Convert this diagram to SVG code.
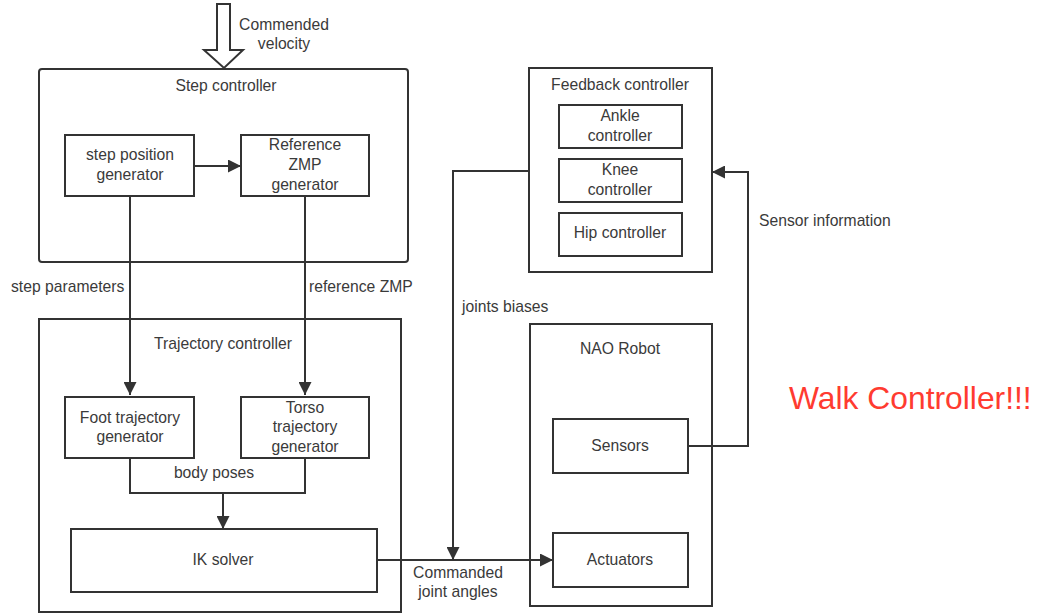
<svg xmlns="http://www.w3.org/2000/svg" width="1042" height="613" viewBox="0 0 1042 613">
<defs>
<marker id="ah" viewBox="0 0 12 12" refX="12" refY="6" markerWidth="13" markerHeight="13" markerUnits="userSpaceOnUse" orient="auto">
<path d="M0,0 L12,6 L0,12 Z" fill="#333"/>
</marker>
</defs>
<style>
text{font-family:"Liberation Sans",Arial,sans-serif;font-size:15.7px;fill:#3a3a3a;text-anchor:middle}
.l{text-anchor:start}
.box{fill:#fff;stroke:#333;stroke-width:2}
.ln{fill:none;stroke:#333;stroke-width:2}
</style>
<rect width="1042" height="613" fill="#fff"/>
<g id="step-controller">
<rect class="box" x="39" y="69" width="369" height="193" rx="3"/>
<text x="226" y="91">Step controller</text>
</g>
<g id="step-position-generator">
<rect class="box" x="65" y="135" width="129" height="61"/>
<text x="130" y="160">step position</text>
<text x="130" y="180">generator</text>
</g>
<g id="reference-zmp-generator">
<rect class="box" x="241" y="135" width="128" height="61"/>
<text x="305" y="150">Reference</text>
<text x="305" y="170">ZMP</text>
<text x="305" y="190">generator</text>
</g>
<g id="trajectory-controller">
<rect class="box" x="39" y="319" width="362" height="293"/>
<text x="223" y="349">Trajectory controller</text>
</g>
<g id="foot-trajectory-generator">
<rect class="box" x="65" y="397" width="129" height="61"/>
<text x="130" y="423">Foot trajectory</text>
<text x="130" y="442">generator</text>
</g>
<g id="torso-trajectory-generator">
<rect class="box" x="241" y="397" width="128" height="61"/>
<text x="305" y="413">Torso</text>
<text x="305" y="432">trajectory</text>
<text x="305" y="452">generator</text>
</g>
<g id="ik-solver">
<rect class="box" x="71" y="529" width="306" height="63"/>
<text x="223" y="565">IK solver</text>
</g>
<g id="feedback-controller">
<rect class="box" x="529" y="68" width="183" height="204"/>
<text x="620" y="90">Feedback controller</text>
</g>
<g id="ankle-controller">
<rect class="box" x="559" y="105" width="123" height="43"/>
<text x="620" y="121">Ankle</text>
<text x="620" y="141">controller</text>
</g>
<g id="knee-controller">
<rect class="box" x="559" y="159" width="123" height="43"/>
<text x="620" y="175">Knee</text>
<text x="620" y="195">controller</text>
</g>
<g id="hip-controller">
<rect class="box" x="559" y="213" width="123" height="43"/>
<text x="620" y="238">Hip controller</text>
</g>
<g id="nao-robot">
<rect class="box" x="530" y="324" width="182" height="282"/>
<text x="620" y="354">NAO Robot</text>
</g>
<g id="sensors">
<rect class="box" x="553" y="419" width="135" height="54"/>
<text x="620" y="451">Sensors</text>
</g>
<g id="actuators">
<rect class="box" x="553" y="533" width="135" height="54"/>
<text x="620" y="565">Actuators</text>
</g>
<g id="connectors">
<path d="M217,4 H230 V50 H243 L224,68 L204,50 H217 Z" fill="#fff" stroke="#333" stroke-width="2" stroke-linejoin="miter"/>
<path class="ln" d="M194,166 H241" marker-end="url(#ah)"/>
<path class="ln" d="M130,196 V395" marker-end="url(#ah)"/>
<path class="ln" d="M305,196 V395" marker-end="url(#ah)"/>
<path class="ln" d="M130,458 V493 H305 V458"/>
<path class="ln" d="M223,493 V529" marker-end="url(#ah)"/>
<path class="ln" d="M377,560 H553" marker-end="url(#ah)"/>
<path class="ln" d="M529,171 H453 V560" marker-end="url(#ah)"/>
<path class="ln" d="M688,446 H748 V172 H712" marker-end="url(#ah)"/>
</g>
<g id="labels">
<text x="284" y="30">Commended</text>
<text x="284" y="49">velocity</text>
<text class="l" x="11" y="292">step parameters</text>
<text class="l" x="309" y="292">reference ZMP</text>
<text class="l" x="462" y="312">joints biases</text>
<text class="l" x="759" y="226">Sensor information</text>
<text x="214" y="478">body poses</text>
<text x="458" y="578">Commanded</text>
<text x="458" y="597">joint angles</text>
<text class="l" x="789" y="409" style="font-size:31.8px;fill:#ff3b30">Walk Controller!!!</text>
</g>
</svg>
